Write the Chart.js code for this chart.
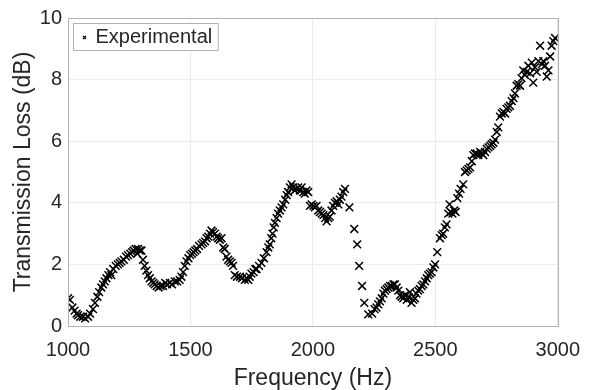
<!DOCTYPE html>
<html>
<head>
<meta charset="utf-8">
<script src="https://cdn.jsdelivr.net/npm/chart.js@4.4.1/dist/chart.umd.min.js"></script>
<style>
  html, body { margin: 0; padding: 0; background: #ffffff; }
  #wrap { width: 592px; height: 390px; }
</style>
</head>
<body>
<div id="wrap"><canvas id="myChart" width="592" height="390"></canvas></div>
<script>
// Measured transmission loss vs frequency
var freq = [
  1000, 1008, 1018, 1027, 1035, 1041, 1050, 1061, 1070, 1082,
  1090, 1102, 1110, 1120, 1127, 1136, 1143, 1150, 1157, 1165,
  1172, 1177, 1185, 1195, 1204, 1211, 1218, 1228, 1237, 1245,
  1254, 1262, 1268, 1276, 1283, 1286, 1293, 1300, 1306, 1313,
  1320, 1327, 1334, 1341, 1348, 1354, 1362, 1370, 1378, 1388,
  1397, 1405, 1416, 1425, 1436, 1446, 1456, 1463, 1470, 1477,
  1484, 1492, 1499, 1506, 1513, 1520, 1527, 1535, 1545, 1552,
  1560, 1566, 1573, 1580, 1586, 1592, 1600, 1607, 1613, 1620,
  1627, 1634, 1640, 1647, 1654, 1661, 1668, 1674, 1681, 1690,
  1702, 1710, 1722, 1730, 1736, 1742, 1749, 1758, 1765, 1770,
  1780, 1790, 1800, 1811, 1818, 1824, 1830, 1835, 1840, 1845,
  1852, 1858, 1865, 1872, 1879, 1887, 1893, 1899, 1906, 1913,
  1920, 1926, 1933, 1940, 1947, 1954, 1961, 1967, 1974, 1981,
  1988, 1995, 2002, 2008, 2015, 2022, 2029, 2036, 2043, 2050,
  2056, 2063, 2069, 2076, 2083, 2090, 2097, 2104, 2110, 2117,
  2124, 2131, 2149, 2169, 2181, 2189, 2201, 2210, 2226, 2242,
  2252, 2260, 2267, 2274, 2281, 2288, 2294, 2301, 2308, 2315,
  2322, 2329, 2335, 2342, 2349, 2356, 2362, 2369, 2376, 2383,
  2390, 2396, 2403, 2410, 2417, 2423, 2430, 2437, 2444, 2451,
  2458, 2465, 2471, 2478, 2485, 2492, 2499, 2508, 2519, 2526,
  2532, 2539, 2546, 2553, 2558, 2563, 2570, 2577, 2583, 2590,
  2597, 2603, 2614, 2621, 2628, 2635, 2642, 2649, 2655, 2662,
  2669, 2676, 2683, 2690, 2696, 2703, 2710, 2717, 2724, 2730,
  2737, 2744, 2751, 2757, 2764, 2771, 2778, 2785, 2791, 2798,
  2805, 2812, 2819, 2825, 2832, 2839, 2846, 2852, 2859, 2866,
  2873, 2880, 2887, 2894, 2900, 2907, 2914, 2921, 2928, 2935,
  2941, 2948, 2955, 2962, 2969, 2975, 2982, 2989
];

var loss = [
  0.90, 0.85, 0.60, 0.50, 0.40, 0.35, 0.30, 0.30, 0.25, 0.30,
  0.40, 0.55, 0.75, 0.95, 1.10, 1.25, 1.35, 1.45, 1.55, 1.65,
  1.75, 1.65, 1.85, 1.95, 2.00, 2.05, 2.10, 2.15, 2.25, 2.30,
  2.35, 2.40, 2.45, 2.50, 2.35, 2.50, 2.45, 2.45, 2.15, 1.95,
  1.80, 1.65, 1.55, 1.45, 1.40, 1.35, 1.30, 1.25, 1.30, 1.30,
  1.40, 1.35, 1.40, 1.35, 1.45, 1.45, 1.50, 1.60, 1.75, 1.95,
  2.10, 2.20, 2.30, 2.35, 2.40, 2.45, 2.50, 2.60, 2.65, 2.70,
  2.75, 2.85, 2.90, 3.00, 3.10, 3.05, 3.00, 2.90, 2.85, 2.80,
  2.85, 2.55, 2.50, 2.25, 2.15, 2.10, 2.05, 1.95, 1.65, 1.60,
  1.60, 1.55, 1.50, 1.55, 1.50, 1.60, 1.70, 1.75, 1.85, 1.85,
  1.95, 2.05, 2.20, 2.40, 2.55, 2.65, 2.85, 3.00, 3.20, 3.35,
  3.50, 3.65, 3.75, 3.85, 3.95, 4.10, 4.25, 4.35, 4.50, 4.60,
  4.50, 4.40, 4.45, 4.50, 4.40, 4.50, 4.35, 4.30, 4.40, 4.35,
  3.90, 3.95, 3.90, 3.85, 3.90, 3.75, 3.70, 3.65, 3.60, 3.50,
  3.40, 3.50, 3.55, 3.75, 3.90, 4.00, 4.05, 3.95, 4.10, 4.20,
  4.35, 4.45, 3.85, 3.15, 2.65, 1.95, 1.30, 0.75, 0.38, 0.40,
  0.55, 0.60, 0.70, 0.80, 0.90, 1.05, 1.15, 1.20, 1.25, 1.30,
  1.30, 1.35, 1.35, 1.25, 1.15, 1.00, 0.95, 0.90, 1.00, 0.85,
  0.95, 1.10, 0.75, 0.85, 0.90, 1.05, 1.15, 1.20, 1.30, 1.35,
  1.45, 1.55, 1.65, 1.70, 1.75, 1.90, 2.00, 2.40, 2.85, 2.95,
  3.00, 3.20, 3.30, 3.65, 3.95, 3.70, 3.65, 3.75, 3.70, 4.15,
  4.30, 4.45, 4.60, 5.00, 5.05, 5.10, 5.15, 5.35, 5.55, 5.60,
  5.60, 5.55, 5.65, 5.60, 5.55, 5.65, 5.75, 5.80, 5.85, 5.90,
  5.95, 6.05, 6.30, 6.45, 6.80, 6.90, 6.95, 6.90, 7.05, 7.10,
  7.15, 7.30, 7.40, 7.55, 7.80, 7.85, 7.80, 8.05, 8.30, 8.15,
  8.25, 8.45, 8.20, 8.55, 7.90, 8.40, 8.25, 8.60, 9.10, 8.50,
  8.60, 8.45, 8.10, 8.30, 8.75, 9.10, 9.25, 9.35
];

var xTicks = [1000, 1500, 2000, 2500, 3000];
var yTicks = [0, 2, 4, 6, 8, 10];

var textColor = '#262626';
var fontName = "'Liberation Sans', Arial, Helvetica, sans-serif";

// box around the plot area, like a closed axes frame
var frameBox = {
  id: 'frameBox',
  afterDatasetsDraw: function(chart) {
    var a = chart.chartArea;
    var ctx = chart.ctx;
    ctx.save();
    ctx.strokeStyle = '#b3b3b3';
    ctx.lineWidth = 1;
    ctx.strokeRect(Math.round(a.left) + 0.5, Math.round(a.top) + 0.5,
                   Math.round(a.right - a.left), Math.round(a.bottom - a.top));
    ctx.restore();
  }
};

// boxed legend in the upper left corner
var boxLegend = {
  id: 'boxLegend',
  afterDraw: function(chart) {
    var a = chart.chartArea;
    var ctx = chart.ctx;
    var label = chart.data.datasets[0].label;
    var x0 = Math.round(a.left) + 5.5, y0 = Math.round(a.top) + 5.5;
    ctx.save();
    ctx.font = '20px ' + fontName;
    var w = ctx.measureText(label).width + 28;
    ctx.fillStyle = '#ffffff';
    ctx.fillRect(x0, y0, w, 27);
    ctx.strokeStyle = '#b3b3b3';
    ctx.lineWidth = 1;
    ctx.strokeRect(x0, y0, w, 27);
    // tiny cross marker
    ctx.strokeStyle = '#000000';
    ctx.lineWidth = 1.2;
    var cx = x0 + 11, cy = y0 + 14;
    ctx.beginPath();
    ctx.moveTo(cx - 1.5, cy - 1.5); ctx.lineTo(cx + 1.5, cy + 1.5);
    ctx.moveTo(cx + 1.5, cy - 1.5); ctx.lineTo(cx - 1.5, cy + 1.5);
    ctx.stroke();
    ctx.fillStyle = textColor;
    ctx.textBaseline = 'middle';
    ctx.fillText(label, x0 + 22, cy);
    ctx.restore();
  }
};

document.addEventListener('DOMContentLoaded', function() {
  var ctx = document.getElementById('myChart').getContext('2d');
  var points = freq.map(function(f, i) { return { x: f, y: loss[i] }; });

  new Chart(ctx, {
    type: 'scatter',
    data: {
      datasets: [{
        label: 'Experimental',
        data: points,
        pointStyle: 'crossRot',
        pointRadius: 5.5,
        pointBorderWidth: 1.5,
        borderColor: '#000000',
        backgroundColor: '#000000'
      }]
    },
    options: {
      responsive: false,
      animation: false,
      layout: { padding: { top: 14, right: 34, left: 0, bottom: 0 } },
      plugins: {
        legend: { display: false },
        tooltip: { enabled: false }
      },
      scales: {
        x: {
          type: 'linear',
          min: 1000,
          max: 3000,
          afterBuildTicks: function(scale) {
            scale.ticks = xTicks.map(function(v) { return { value: v }; });
          },
          afterFit: function(scale) { scale.height = 64; },
          grid: { color: '#ebebeb', drawTicks: false },
          border: { display: false },
          ticks: {
            color: textColor,
            padding: 12,
            maxRotation: 0,
            callback: function(v) { return String(v); },
            font: { family: fontName, size: 20 }
          },
          title: {
            display: true,
            text: 'Frequency (Hz)',
            color: textColor,
            padding: { top: 0, bottom: 0 },
            font: { family: fontName, size: 23, lineHeight: 1 }
          }
        },
        y: {
          type: 'linear',
          min: 0,
          max: 10,
          afterBuildTicks: function(scale) {
            scale.ticks = yTicks.map(function(v) { return { value: v }; });
          },
          afterFit: function(scale) { scale.width = 68; },
          grid: { color: '#ebebeb', drawTicks: false },
          border: { display: false },
          ticks: {
            color: textColor,
            padding: 6,
            callback: function(v) { return String(v); },
            font: { family: fontName, size: 20 }
          },
          title: {
            display: true,
            text: 'Transmission Loss (dB)',
            color: textColor,
            padding: { top: 12, bottom: 0 },
            font: { family: fontName, size: 23, lineHeight: 1 }
          }
        }
      }
    },
    plugins: [frameBox, boxLegend]
  });
});
</script>
</body>
</html>
